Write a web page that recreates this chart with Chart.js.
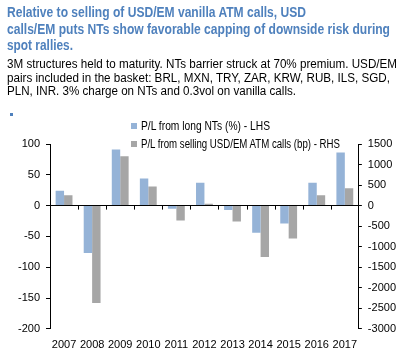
<!DOCTYPE html>
<html>
<head>
<meta charset="utf-8">
<script src="https://cdn.jsdelivr.net/npm/chart.js@4/dist/chart.umd.min.js"></script>
<style>
  html, body { margin: 0; padding: 0; background: #fff; }
  #wrap { position: relative; width: 406px; height: 352px; overflow: hidden; }
  #chart { position: absolute; left: 0; top: 0; }
  .line { position: absolute; left: 7px; white-space: nowrap; transform-origin: 0 50%; }
  .title { color: rgb(79, 129, 189); font: bold 15px 'Liberation Sans', Arial, sans-serif; line-height: 17px; }
  .sub { color: #000; font: 12px 'Liberation Sans', Arial, sans-serif; line-height: 14px; }
  .dot { position: absolute; left: 10px; top: 113px; width: 3px; height: 3px; background: rgb(79, 129, 189); }
  .box { position: absolute; left: 131px; width: 6px; height: 6px; }
  .legend { position: absolute; left: 141px; white-space: nowrap; transform-origin: 0 50%;
    font: 12px 'Liberation Sans', Arial, sans-serif; line-height: 14px; color: #000; }
</style>
</head>
<body>
<div id="wrap">
  <canvas id="chart" width="406" height="352"></canvas>
  <div class="line title" style="top:3px" data-w="299">Relative to selling of USD/EM vanilla ATM calls, USD</div>
  <div class="line title" style="top:20px" data-w="383">calls/EM puts NTs show favorable capping of downside risk during</div>
  <div class="line title" style="top:36px" data-w="66">spot rallies.</div>
  <div class="line sub" style="top:57px" data-w="390">3M structures held to maturity. NTs barrier struck at 70% premium. USD/EM</div>
  <div class="line sub" style="top:71px" data-w="383">pairs included in the basket: BRL, MXN, TRY, ZAR, KRW, RUB, ILS, SGD,</div>
  <div class="line sub" style="top:84px" data-w="289">PLN, INR. 3% charge on NTs and 0.3vol on vanilla calls.</div>
  <div class="dot"></div>
  <div class="box" style="top:123px;background:rgb(149,179,215)"></div>
  <div class="legend" style="top:119px" data-w="129">P/L from long NTs (%) - LHS</div>
  <div class="box" style="top:141px;background:rgb(166,166,166)"></div>
  <div class="legend" style="top:137px" data-w="199">P/L from selling USD/EM ATM calls (bp) - RHS</div>
</div>
<script>
const C_BLUE = 'rgb(149, 179, 215)';
const C_GREY = 'rgb(166, 166, 166)';
const NUM_FONT = { family: "'Liberation Sans', Arial, sans-serif", size: 11 };

const years = ['2007', '2008', '2009', '2010', '2011', '2012', '2013', '2014', '2015', '2016', '2017'];
const ntPL = [24, -77, 91, 44, -5, 37, -7, -44, -29, 37, 86];
const vanillaPL = [255, -2370, 1200, 465, -360, 45, -385, -1250, -800, 255, 425];

// squeeze the html text lines to the widths seen in the picture (narrow font)
document.querySelectorAll('[data-w]').forEach((el) => {
    const w = el.getBoundingClientRect().width;
    el.style.transform = 'scaleX(' + (parseFloat(el.dataset.w) / w) + ')';
});

// little tick marks on the zero line between the years
const zeroTicks = {
    id: 'zeroTicks',
    afterDatasetsDraw(chart) {
        const x = chart.scales.x;
        const y0 = chart.scales.y.getPixelForValue(0);
        const n = years.length;
        const ctx = chart.ctx;
        ctx.save();
        ctx.strokeStyle = '#000';
        ctx.lineWidth = 1;
        for (let i = 1; i < n; i++) {
            const px = Math.round(x.left + i * (x.right - x.left) / n) + 0.5;
            ctx.beginPath();
            ctx.moveTo(px, y0);
            ctx.lineTo(px, y0 + 4);
            ctx.stroke();
        }
        ctx.restore();
    }
};

const chart = new Chart(
        document.getElementById('chart'),
        {
            type: 'bar',
            data: {
                labels: years,
                datasets: [
                    {
                        label: 'P/L from long NTs (%) - LHS',
                        backgroundColor: C_BLUE,
                        data: ntPL,
                        yAxisID: 'y',
                    },
                    {
                        label: 'P/L from selling USD/EM ATM calls (bp) - RHS',
                        backgroundColor: C_GREY,
                        data: vanillaPL,
                        yAxisID: 'y1',
                    },
                ]
            },
            options: {
                animation: false,
                responsive: false,
                categoryPercentage: 0.6,
                barPercentage: 1.0,
                layout: { padding: { top: 144, left: 12, right: 4, bottom: -2 } },
                plugins: { legend: { display: false }, tooltip: { enabled: false } },
                scales: {
                    x: {
                        grid: { display: false },
                        border: { display: false },
                        ticks: { color: '#000', font: NUM_FONT, padding: 2, maxRotation: 0, autoSkip: false }
                    },
                    y: {
                        position: 'left',
                        min: -200, max: 100,
                        ticks: { stepSize: 50, color: '#000', font: NUM_FONT, padding: 6 },
                        grid: {
                            color: (c) => c.tick && c.tick.value === 0 ? '#000' : 'rgba(0,0,0,0)',
                            tickColor: '#000', tickLength: 4
                        },
                        border: { display: true, color: '#000' }
                    },
                    y1: {
                        position: 'right',
                        min: -3000, max: 1500,
                        ticks: { stepSize: 500, color: '#000', font: NUM_FONT, padding: 6,
                                 callback: (v) => String(v) },
                        grid: { drawOnChartArea: false, tickColor: '#000', tickLength: 3 },
                        border: { display: true, color: '#000' }
                    }
                }
            },
            plugins: [zeroTicks]
        });
</script>
</body>
</html>
